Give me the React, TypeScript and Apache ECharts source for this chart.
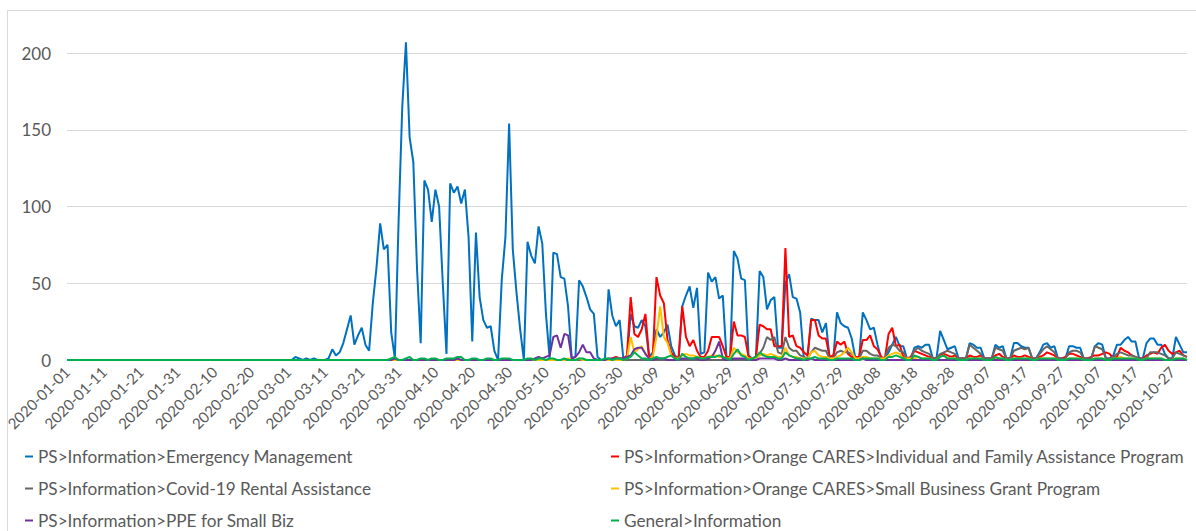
import React, { useEffect, useRef } from "react";
import * as echarts from "echarts";

// Category range: one point per day
const START_DATE = "2020-01-01";
const DAY_COUNT = 305; // 2020-01-01 .. 2020-10-31

function buildDates(): string[] {
  const out: string[] = [];
  const [y, m, d] = START_DATE.split("-").map(Number);
  const t0 = Date.UTC(y, m - 1, d);
  for (let i = 0; i < DAY_COUNT; i++) {
    const dt = new Date(t0 + i * 86400000);
    const mm = String(dt.getUTCMonth() + 1).padStart(2, "0");
    const dd = String(dt.getUTCDate()).padStart(2, "0");
    out.push(`${dt.getUTCFullYear()}-${mm}-${dd}`);
  }
  return out;
}
const dates = buildDates();

const yTicks = [0, 50, 100, 150, 200];

const seriesNames = [
  "PS>Information>Emergency Management",
  "PS>Information>Orange CARES>Individual and Family Assistance Program",
  "PS>Information>Covid-19 Rental Assistance",
  "PS>Information>Orange CARES>Small Business Grant Program",
  "PS>Information>PPE for Small Biz",
  "General>Information",
];
const seriesColors = ["#0070C0", "#FF0000", "#666666", "#FFC000", "#7030A0", "#00B050"];

// rows of 10 days
const emergencyManagement = [
  0, 0, 0, 0, 0, 0, 0, 0, 0, 0,
  0, 0, 0, 0, 0, 0, 0, 0, 0, 0,
  0, 0, 0, 0, 0, 0, 0, 0, 0, 0,
  0, 0, 0, 0, 0, 0, 0, 0, 0, 0,
  0, 0, 0, 0, 0, 0, 0, 0, 0, 0,
  0, 0, 0, 0, 0, 0, 0, 0, 0, 0,
  0, 0, 2, 1, 0, 1, 0, 1, 0, 0,
  0, 1, 7, 3, 5, 11, 20, 29, 10, 16,
  21, 10, 6, 37, 60, 89, 72, 75, 18, 1,
  90, 165, 207, 145, 129, 60, 11, 117, 111, 90,
  111, 100, 50, 4, 115, 109, 113, 102, 111, 80,
  12, 83, 41, 26, 21, 22, 6, 0, 52, 80,
  154, 72, 44, 20, 0, 77, 68, 63, 87, 76,
  30, 1, 70, 69, 54, 53, 35, 1, 2, 52,
  48, 41, 33, 30, 2, 0, 0, 46, 29, 22,
  26, 1, 1, 30, 22, 21, 26, 22, 2, 5,
  20, 15, 18, 23, 9, 3, 1, 35, 42, 48,
  34, 47, 4, 5, 57, 51, 54, 40, 42, 2,
  2, 71, 66, 53, 52, 3, 1, 2, 58, 54,
  33, 39, 41, 8, 8, 50, 56, 41, 40, 31,
  1, 1, 27, 26, 26, 18, 24, 1, 1, 31,
  24, 22, 21, 14, 1, 1, 31, 26, 20, 21,
  10, 1, 1, 5, 10, 15, 9, 9, 1, 1,
  8, 9, 8, 10, 10, 1, 1, 19, 13, 7,
  8, 9, 1, 1, 1, 11, 10, 8, 8, 1,
  1, 1, 10, 8, 9, 1, 1, 11, 11, 9,
  8, 8, 1, 1, 5, 10, 11, 8, 9, 1,
  1, 1, 9, 9, 8, 8, 1, 1, 1, 9,
  11, 10, 1, 1, 3, 10, 10, 13, 15, 12,
  12, 1, 1, 11, 14, 14, 10, 10, 4, 1,
  1, 15, 10, 5, 5,
];

const individualFamilyAssistance = [
  0, 0, 0, 0, 0, 0, 0, 0, 0, 0,
  0, 0, 0, 0, 0, 0, 0, 0, 0, 0,
  0, 0, 0, 0, 0, 0, 0, 0, 0, 0,
  0, 0, 0, 0, 0, 0, 0, 0, 0, 0,
  0, 0, 0, 0, 0, 0, 0, 0, 0, 0,
  0, 0, 0, 0, 0, 0, 0, 0, 0, 0,
  0, 0, 0, 0, 0, 0, 0, 0, 0, 0,
  0, 0, 0, 0, 0, 0, 0, 0, 0, 0,
  0, 0, 0, 0, 0, 0, 0, 0, 0, 0,
  0, 0, 0, 0, 0, 0, 0, 0, 0, 0,
  0, 0, 0, 0, 0, 0, 0, 0, 0, 0,
  0, 0, 0, 0, 0, 0, 0, 0, 0, 0,
  0, 0, 0, 0, 0, 0, 0, 0, 0, 0,
  0, 0, 0, 0, 0, 0, 0, 0, 0, 0,
  0, 0, 0, 0, 0, 0, 0, 0, 1, 2,
  1, 1, 3, 41, 17, 15, 20, 30, 2, 2,
  54, 42, 37, 13, 5, 2, 1, 35, 15, 9,
  13, 6, 2, 2, 6, 15, 15, 15, 9, 2,
  2, 25, 16, 16, 15, 2, 1, 2, 23, 22,
  20, 20, 9, 9, 9, 73, 15, 16, 9, 8,
  5, 3, 26, 26, 16, 14, 14, 2, 3, 12,
  10, 12, 4, 2, 2, 2, 13, 13, 16, 9,
  7, 2, 1, 17, 21, 9, 10, 2, 1, 2,
  6, 5, 4, 3, 2, 1, 1, 3, 4, 3,
  2, 3, 1, 1, 1, 3, 2, 2, 3, 1,
  1, 1, 3, 4, 2, 1, 1, 3, 2, 2,
  3, 2, 1, 1, 2, 3, 5, 4, 3, 1,
  1, 2, 4, 4, 3, 2, 1, 1, 2, 3,
  3, 4, 5, 4, 1, 2, 8, 6, 5, 3,
  2, 1, 1, 3, 4, 5, 4, 8, 10, 6,
  4, 5, 6, 3, 2,
];

const rentalAssistance = [
  0, 0, 0, 0, 0, 0, 0, 0, 0, 0,
  0, 0, 0, 0, 0, 0, 0, 0, 0, 0,
  0, 0, 0, 0, 0, 0, 0, 0, 0, 0,
  0, 0, 0, 0, 0, 0, 0, 0, 0, 0,
  0, 0, 0, 0, 0, 0, 0, 0, 0, 0,
  0, 0, 0, 0, 0, 0, 0, 0, 0, 0,
  0, 0, 0, 0, 0, 0, 0, 0, 0, 0,
  0, 0, 0, 0, 0, 0, 0, 0, 0, 0,
  0, 0, 0, 0, 0, 0, 0, 0, 0, 0,
  0, 0, 0, 0, 0, 0, 0, 0, 0, 0,
  0, 0, 0, 0, 0, 0, 0, 0, 0, 0,
  0, 0, 0, 0, 0, 0, 0, 0, 0, 0,
  0, 0, 0, 0, 0, 0, 0, 0, 0, 0,
  0, 0, 0, 0, 0, 0, 0, 0, 0, 0,
  0, 0, 0, 0, 0, 0, 0, 0, 0, 0,
  0, 0, 0, 0, 0, 0, 0, 0, 0, 0,
  0, 0, 0, 0, 0, 0, 0, 0, 0, 0,
  0, 0, 0, 0, 0, 0, 0, 0, 0, 0,
  0, 0, 0, 0, 0, 0, 1, 1, 4, 8,
  15, 13, 15, 5, 4, 15, 8, 6, 6, 3,
  2, 1, 5, 8, 7, 6, 6, 1, 1, 5,
  6, 5, 5, 4, 1, 1, 6, 6, 4, 3,
  3, 1, 1, 8, 10, 9, 6, 5, 1, 1,
  6, 8, 6, 5, 4, 1, 1, 4, 5, 6,
  5, 4, 1, 1, 1, 10, 8, 6, 4, 1,
  1, 1, 8, 7, 6, 1, 1, 6, 7, 8,
  7, 8, 1, 1, 4, 7, 9, 7, 5, 1,
  1, 1, 5, 6, 6, 5, 1, 1, 1, 9,
  8, 7, 1, 1, 2, 4, 5, 4, 3, 3,
  2, 1, 1, 1, 5, 5, 5, 4, 3, 1,
  1, 5, 4, 3, 2,
];

const smallBusinessGrant = [
  0, 0, 0, 0, 0, 0, 0, 0, 0, 0,
  0, 0, 0, 0, 0, 0, 0, 0, 0, 0,
  0, 0, 0, 0, 0, 0, 0, 0, 0, 0,
  0, 0, 0, 0, 0, 0, 0, 0, 0, 0,
  0, 0, 0, 0, 0, 0, 0, 0, 0, 0,
  0, 0, 0, 0, 0, 0, 0, 0, 0, 0,
  0, 0, 0, 0, 0, 0, 0, 0, 0, 0,
  0, 0, 0, 0, 0, 0, 0, 0, 0, 0,
  0, 0, 0, 0, 0, 0, 0, 0, 0, 0,
  0, 0, 0, 0, 0, 0, 0, 0, 0, 0,
  0, 0, 0, 0, 0, 0, 0, 0, 0, 0,
  0, 0, 0, 0, 0, 0, 0, 0, 0, 0,
  0, 0, 0, 0, 0, 0, 0, 0, 0, 0,
  0, 0, 0, 0, 0, 0, 1, 0, 0, 1,
  0, 0, 0, 0, 0, 0, 0, 0, 0, 0,
  0, 0, 1, 15, 5, 7, 9, 4, 1, 2,
  15, 35, 15, 11, 3, 1, 1, 3, 4, 3,
  3, 2, 1, 1, 2, 3, 3, 2, 2, 1,
  1, 8, 5, 4, 3, 1, 1, 1, 3, 4,
  3, 4, 3, 2, 2, 8, 3, 2, 2, 1,
  1, 1, 5, 6, 3, 2, 2, 1, 1, 2,
  3, 5, 8, 5, 1, 1, 2, 2, 1, 1,
  1, 1, 1, 3, 4, 5, 4, 1, 1, 1,
  1, 2, 1, 1, 1, 0, 0, 2, 3, 1,
  1, 1, 0, 0, 0, 1, 1, 1, 1, 0,
  0, 0, 1, 1, 1, 0, 0, 1, 1, 1,
  1, 1, 0, 0, 1, 1, 1, 1, 1, 0,
  0, 0, 1, 1, 1, 1, 0, 0, 0, 1,
  1, 1, 0, 0, 1, 1, 2, 1, 1, 1,
  1, 0, 0, 1, 1, 1, 1, 1, 0, 0,
  0, 1, 1, 1, 0,
];

const ppeSmallBiz = [
  0, 0, 0, 0, 0, 0, 0, 0, 0, 0,
  0, 0, 0, 0, 0, 0, 0, 0, 0, 0,
  0, 0, 0, 0, 0, 0, 0, 0, 0, 0,
  0, 0, 0, 0, 0, 0, 0, 0, 0, 0,
  0, 0, 0, 0, 0, 0, 0, 0, 0, 0,
  0, 0, 0, 0, 0, 0, 0, 0, 0, 0,
  0, 0, 0, 0, 0, 0, 0, 0, 0, 0,
  0, 0, 0, 0, 0, 0, 0, 0, 0, 0,
  0, 0, 0, 0, 0, 0, 0, 0, 0, 1,
  0, 0, 0, 0, 0, 0, 0, 0, 0, 0,
  0, 0, 0, 0, 0, 0, 1, 0, 0, 0,
  0, 0, 0, 0, 0, 0, 0, 0, 0, 0,
  0, 0, 0, 0, 0, 0, 0, 1, 2, 1,
  2, 3, 15, 16, 8, 17, 16, 1, 2, 5,
  10, 5, 5, 1, 0, 0, 0, 1, 1, 1,
  1, 1, 2, 3, 7, 8, 8, 4, 1, 0,
  1, 1, 1, 0, 0, 0, 0, 1, 1, 1,
  1, 1, 0, 0, 1, 2, 6, 12, 1, 0,
  0, 1, 1, 1, 1, 0, 0, 0, 1, 1,
  1, 1, 1, 0, 0, 1, 0, 0, 0, 0,
  0, 0, 1, 0, 0, 0, 0, 0, 0, 0,
  0, 0, 0, 0, 0, 0, 1, 0, 0, 0,
  0, 0, 0, 0, 0, 0, 0, 0, 0, 0,
  0, 0, 0, 0, 0, 0, 0, 0, 0, 0,
  0, 0, 0, 0, 0, 0, 0, 0, 0, 0,
  0, 0, 0, 0, 0, 0, 0, 0, 0, 0,
  0, 0, 0, 0, 0, 0, 0, 0, 0, 0,
  0, 0, 0, 0, 0, 0, 0, 0, 0, 0,
  0, 0, 0, 0, 0, 0, 0, 0, 0, 0,
  0, 0, 0, 0, 0, 0, 0, 0, 0, 0,
  0, 0, 0, 0, 0,
];

const generalInformation = [
  0, 0, 0, 0, 0, 0, 0, 0, 0, 0,
  0, 0, 0, 0, 0, 0, 0, 0, 0, 0,
  0, 0, 0, 0, 0, 0, 0, 0, 0, 0,
  0, 0, 0, 0, 0, 0, 0, 0, 0, 0,
  0, 0, 0, 0, 0, 0, 0, 0, 0, 0,
  0, 0, 0, 0, 0, 0, 0, 0, 0, 0,
  0, 0, 0, 0, 0, 0, 0, 0, 0, 0,
  0, 0, 0, 0, 0, 0, 0, 0, 0, 0,
  0, 0, 0, 0, 0, 0, 0, 0, 1, 2,
  0, 0, 1, 2, 0, 0, 1, 1, 0, 1,
  1, 0, 0, 1, 1, 1, 2, 2, 0, 0,
  1, 1, 0, 0, 1, 1, 0, 0, 1, 1,
  1, 0, 0, 0, 0, 1, 1, 0, 1, 1,
  0, 1, 1, 0, 0, 1, 0, 0, 0, 1,
  1, 0, 0, 0, 0, 0, 1, 1, 0, 1,
  1, 0, 1, 2, 5, 3, 1, 1, 0, 1,
  2, 1, 1, 2, 3, 1, 0, 4, 2, 1,
  1, 2, 1, 1, 2, 2, 2, 3, 2, 1,
  0, 4, 7, 3, 2, 0, 1, 2, 5, 3,
  2, 2, 2, 1, 1, 5, 3, 2, 1, 1,
  0, 1, 1, 2, 1, 1, 1, 0, 0, 1,
  1, 1, 1, 1, 0, 0, 1, 1, 1, 1,
  1, 0, 0, 2, 2, 3, 2, 1, 0, 0,
  3, 2, 1, 1, 1, 0, 0, 2, 3, 1,
  1, 1, 0, 0, 0, 1, 1, 1, 1, 0,
  0, 0, 2, 1, 1, 0, 0, 1, 1, 1,
  1, 1, 0, 0, 1, 1, 1, 1, 1, 0,
  0, 0, 1, 1, 1, 1, 0, 0, 0, 1,
  1, 1, 0, 0, 1, 1, 1, 1, 1, 1,
  1, 0, 0, 1, 1, 1, 1, 1, 0, 0,
  0, 1, 1, 1, 0,
];

const seriesValues = [
  emergencyManagement,
  individualFamilyAssistance,
  rentalAssistance,
  smallBusinessGrant,
  ppeSmallBiz,
  generalInformation,
];

const FONT = "Lato, 'Open Sans', 'Noto Sans', sans-serif";
const TEXT_COLOR = "#595959";

export default function App() {
  const ref = useRef<HTMLDivElement>(null);

  useEffect(() => {
    if (!ref.current) return;
    const chart = echarts.init(ref.current, undefined, { renderer: "svg" });

    const legends = seriesNames.map((name, i) => ({
      data: [name],
      left: i % 2 === 0 ? 25 : 611,
      top: 448 + Math.floor(i / 2) * 32,
      icon: "rect",
      itemWidth: 8,
      itemHeight: 2,
      selectedMode: false,
      padding: 0,
      textStyle: { color: TEXT_COLOR, fontFamily: FONT, fontSize: 17.2 },
    }));

    chart.setOption({
      animation: false,
      backgroundColor: "#ffffff",
      graphic: [
        {
          type: "rect",
          silent: true,
          z: -10,
          shape: { x: 7.5, y: 10.5, width: 1200, height: 540 },
          style: { fill: "none", stroke: "#d9d9d9", lineWidth: 1 },
        },
      ],
      legend: legends,
      grid: { left: 67, right: 9, top: 53, bottom: 171, containLabel: false },
      xAxis: {
        type: "category",
        data: dates,
        boundaryGap: false,
        axisLine: { show: true, lineStyle: { color: "#d9d9d9", width: 1 } },
        axisTick: { show: false },
        axisLabel: {
          interval: 9,
          rotate: 45,
          color: TEXT_COLOR,
          fontFamily: FONT,
          fontSize: 15,
          margin: 9,
        },
        splitLine: { show: false },
      },
      yAxis: {
        type: "value",
        min: yTicks[0],
        max: yTicks[yTicks.length - 1],
        interval: 50,
        axisLine: { show: false },
        axisTick: { show: false },
        axisLabel: { color: TEXT_COLOR, fontFamily: FONT, fontSize: 17, margin: 16 },
        splitLine: { show: true, lineStyle: { color: "#d9d9d9", width: 1 } },
      },
      series: seriesNames.map((name, i) => ({
        name,
        type: "line",
        data: seriesValues[i],
        showSymbol: false,
        symbol: "none",
        clip: false,
        lineStyle: { color: seriesColors[i], width: 2 },
        itemStyle: { color: seriesColors[i] },
        z: 2 + i,
      })),
    });

    return () => chart.dispose();
  }, []);

  return (
    <div
      ref={ref}
      style={{ position: "absolute", left: 0, top: 0, width: 1196, height: 531 }}
    />
  );
}
